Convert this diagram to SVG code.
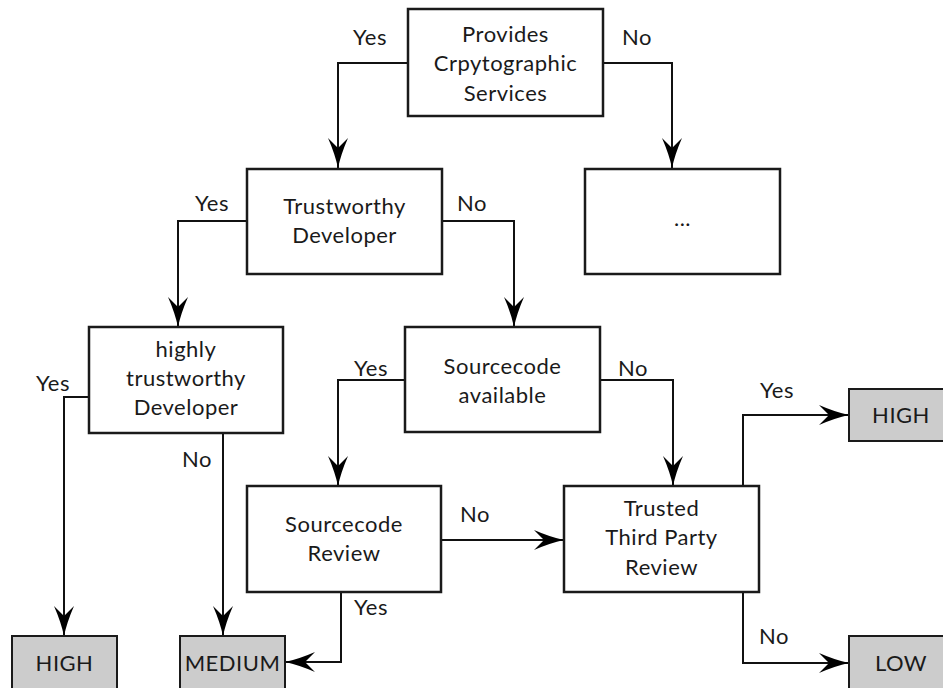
<svg xmlns="http://www.w3.org/2000/svg" width="943" height="688" viewBox="0 0 943 688">
  <style>
    .box { fill: #ffffff; stroke: #1a1a1a; stroke-width: 2.5; }
    .leaf { fill: #cccccc; stroke: #1a1a1a; stroke-width: 2; }
    .t { font-family: Lato, "Open Sans", sans-serif; font-size: 22px; letter-spacing: 0.5px; fill: #1a1a1a; text-anchor: middle; }
    .lbl { font-family: Lato, "Open Sans", sans-serif; font-size: 22px; letter-spacing: 0.5px; fill: #1a1a1a; }
    .edge { fill: none; stroke: #111111; stroke-width: 2; marker-end: url(#arrow); }
  </style>
  <defs>
    <marker id="arrow" markerUnits="userSpaceOnUse" markerWidth="34" markerHeight="24" viewBox="-32 -12 34 24" refX="0" refY="0" orient="auto">
      <path d="M0,0 Q-14,-3 -30,-10 L-20,0 L-30,10 Q-14,3 0,0 Z" fill="#000000"/>
    </marker>
  </defs>
  <rect width="943" height="688" fill="#ffffff"/>

  <!-- connectors -->
  <g id="connectors">
    <path class="edge" d="M408,63 H338 V168"/>
    <path class="edge" d="M603,63 H672 V168"/>
    <path class="edge" d="M247,221 H178 V327"/>
    <path class="edge" d="M442,221 H514 V327"/>
    <path class="edge" d="M89,397 H64 V636"/>
    <path class="edge" d="M223,433 V636"/>
    <path class="edge" d="M405,380 H338 V486"/>
    <path class="edge" d="M600,380 H673 V486"/>
    <path class="edge" d="M441,540 H564"/>
    <path class="edge" d="M341,593 V662 H285"/>
    <path class="edge" d="M743,486 V415 H849"/>
    <path class="edge" d="M743,592 V663 H849"/>
  </g>

  <!-- edge labels -->
  <g id="labels">
    <text class="lbl" x="353" y="45">Yes</text>
    <text class="lbl" x="622" y="45">No</text>
    <text class="lbl" x="195" y="211">Yes</text>
    <text class="lbl" x="457" y="211">No</text>
    <text class="lbl" x="36" y="391">Yes</text>
    <text class="lbl" x="182" y="467">No</text>
    <text class="lbl" x="354" y="376">Yes</text>
    <text class="lbl" x="618" y="376">No</text>
    <text class="lbl" x="460" y="522">No</text>
    <text class="lbl" x="354" y="615">Yes</text>
    <text class="lbl" x="760" y="398">Yes</text>
    <text class="lbl" x="759" y="644">No</text>
  </g>

  <g id="provides">
    <rect class="box" x="408" y="9" width="195" height="107"/>
    <text class="t" x="505.5" y="42">Provides</text>
    <text class="t" x="505.5" y="71">Crpytographic</text>
    <text class="t" x="505.5" y="101">Services</text>
  </g>

  <g id="trustworthy">
    <rect class="box" x="247" y="169" width="195" height="105"/>
    <text class="t" x="344.5" y="214">Trustworthy</text>
    <text class="t" x="344.5" y="243">Developer</text>
  </g>

  <g id="other">
    <rect class="box" x="585" y="169" width="195" height="105"/>
    <text class="t" x="682.5" y="226">...</text>
  </g>

  <g id="highly">
    <rect class="box" x="89" y="327" width="194" height="106"/>
    <text class="t" x="186" y="357">highly</text>
    <text class="t" x="186" y="386">trustworthy</text>
    <text class="t" x="186" y="415">Developer</text>
  </g>

  <g id="available">
    <rect class="box" x="405" y="327" width="195" height="105"/>
    <text class="t" x="502.5" y="374">Sourcecode</text>
    <text class="t" x="502.5" y="403">available</text>
  </g>

  <g id="review">
    <rect class="box" x="247" y="486" width="194" height="106"/>
    <text class="t" x="344" y="532">Sourcecode</text>
    <text class="t" x="344" y="561">Review</text>
  </g>

  <g id="thirdparty">
    <rect class="box" x="564" y="486" width="195" height="106"/>
    <text class="t" x="661.5" y="516">Trusted</text>
    <text class="t" x="661.5" y="545">Third Party</text>
    <text class="t" x="661.5" y="575">Review</text>
  </g>

  <g id="high-left">
    <rect class="leaf" x="12" y="636" width="105" height="60"/>
    <text class="t" x="64.5" y="671">HIGH</text>
  </g>

  <g id="medium">
    <rect class="leaf" x="180" y="636" width="105" height="60"/>
    <text class="t" x="232.5" y="671">MEDIUM</text>
  </g>

  <g id="high-right">
    <rect class="leaf" x="849" y="389" width="100" height="52"/>
    <text class="t" x="901" y="423">HIGH</text>
  </g>

  <g id="low">
    <rect class="leaf" x="849" y="636" width="100" height="60"/>
    <text class="t" x="901" y="671">LOW</text>
  </g>
</svg>
